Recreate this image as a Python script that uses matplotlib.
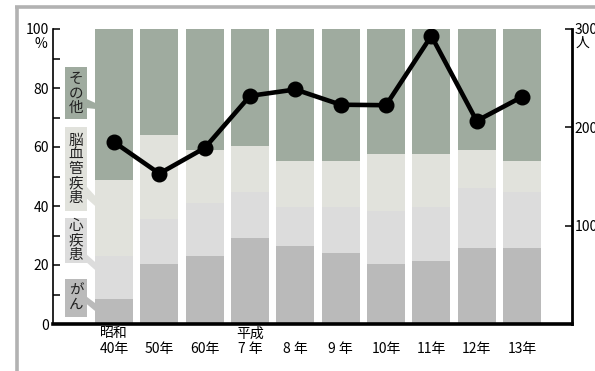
import matplotlib
matplotlib.use("Agg")
import matplotlib.pyplot as plt
from matplotlib.patches import Rectangle, Polygon
from matplotlib.lines import Line2D

plt.rcParams['font.family'] = ['Noto Sans CJK JP', 'DejaVu Sans']

# ---- data ----
year_labels = ["40年", "50年", "60年", "7 年", "8 年", "9 年", "10年", "11年", "12年", "13年"]
era_labels = ["昭和", "", "", "平成", "", "", "", "", "", ""]
cause_names = ["がん", "心疾患", "脳血管疾患", "その他"]
cancer = [8.6, 20.4, 22.9, 29.3, 26.6, 24.2, 20.5, 21.5, 25.6, 25.6]
heart = [14.3, 15.3, 18.0, 15.3, 12.9, 15.3, 17.8, 18.0, 20.5, 19.0]
stroke = [25.8, 28.3, 18.0, 15.6, 15.6, 15.6, 19.2, 18.0, 12.8, 10.5]
other = [51.3, 36.0, 41.1, 39.8, 44.9, 44.9, 42.5, 42.5, 41.1, 44.9]
persons = [185, 153, 179, 232, 238.5, 223, 222.5, 293, 206.5, 231]

colors = ["#bababa", "#dcdcdc", "#e1e2dc", "#9fab9f"]

W, H = 595, 371
fig = plt.figure(figsize=(W / 100, H / 100), dpi=100)
fig.patch.set_facecolor("white")

# outer frame (partial, top & left visible)
fig.add_artist(Line2D([16.5 / W, 16.5 / W], [-0.05, 1 - 6.5 / H], transform=fig.transFigure,
                      color="#b2b2b2", lw=2.6, solid_capstyle="butt"))
fig.add_artist(Line2D([15.2 / W, 1.05], [1 - 6.5 / H, 1 - 6.5 / H], transform=fig.transFigure,
                      color="#b2b2b2", lw=2.6, solid_capstyle="butt"))

ax = fig.add_axes([53 / W, 1 - 324 / H, (572 - 53) / W, (324 - 29) / H])
x = list(range(len(year_labels)))
bw = 0.838
series = [cancer, heart, stroke, other]
bottom = [0.0] * len(x)
for vals, c in zip(series, colors):
    ax.bar(x, vals, bw, bottom=bottom, color=c, edgecolor="none", zorder=1)
    bottom = [b + v for b, v in zip(bottom, vals)]

ax.set_xlim(-1.346, 10.103)
ax.set_ylim(0, 100)
ax.set_yticks([0, 20, 40, 60, 80, 100])
ax.set_yticks([10, 30, 50, 70, 90], minor=True)
ax.tick_params(axis="y", which="both", direction="in", length=5, width=1.1, labelsize=10, pad=3)
ax.set_xticks([])
ax.spines["top"].set_visible(False)
ax.spines["right"].set_visible(False)
ax.spines["left"].set_linewidth(1.2)
ax.spines["bottom"].set_linewidth(2.6)
ax.spines["bottom"].set_capstyle("projecting")

ax.annotate("%", xy=(0, 1), xycoords="axes fraction", xytext=(-12, -15), textcoords="offset pixels",
            ha="center", va="center", fontsize=10)

for i in x:
    ax.annotate(year_labels[i], xy=(i, 0), xycoords="data", xytext=(0, -25), textcoords="offset pixels",
                ha="center", va="center", fontsize=10, annotation_clip=False)
    if era_labels[i]:
        ax.annotate(era_labels[i], xy=(i, 0), xycoords="data", xytext=(0, -9.5), textcoords="offset pixels",
                    ha="center", va="center", fontsize=10, annotation_clip=False)

# legend boxes (vertical labels) with pointers
box_x0, box_x1 = -1.081, -0.596
bar_edge = -bw / 2
boxes = [  # (y_bottom, y_top, pointer polygon ys: box top, bar top, bar bottom, box bottom)
    (2.5, 15.1, (9.3, 7.0, 4.3, 6.8)),
    (20.8, 35.8, (23.6, 20.9, 18.2, 20.9)),
    (38.2, 66.7, (46.6, 43.3, 39.9, 42.6)),
    (69.4, 87.1, (76.3, 74.9, 72.9, 73.2)),
]
for name, c, (y0, y1, py) in zip(cause_names, colors, boxes):
    ax.add_patch(Rectangle((box_x0, y0), box_x1 - box_x0, y1 - y0, facecolor=c, edgecolor="none", zorder=3))
    ax.add_patch(Polygon([(box_x1 - 0.01, py[0]), (bar_edge + 0.01, py[1]), (bar_edge + 0.01, py[2]),
                          (box_x1 - 0.01, py[3])], closed=True, facecolor=c, edgecolor="none", zorder=3))
    ax.text((box_x0 + box_x1) / 2, (y0 + y1) / 2, "\n".join(name), ha="center", va="center",
            fontsize=10.5, linespacing=1.02, color="#222222", zorder=4)

# right axis: persons
ax2 = ax.twinx()
ax2.set_ylim(0, 300)
ax2.plot(x, persons, color="black", lw=3.3, marker="o", ms=10.5, zorder=5, solid_joinstyle="miter")
ax2.set_yticks([100, 200, 300])
ax2.tick_params(axis="y", direction="in", length=5, width=1.1, labelsize=10, pad=2)
for s in ["left", "top", "bottom"]:
    ax2.spines[s].set_visible(False)
ax2.spines["right"].set_linewidth(2.0)
ax2.annotate("人", xy=(1, 1), xycoords="axes fraction", xytext=(10, -14), textcoords="offset pixels",
             ha="center", va="center", fontsize=10)

fig.savefig("out.png", dpi=100)
